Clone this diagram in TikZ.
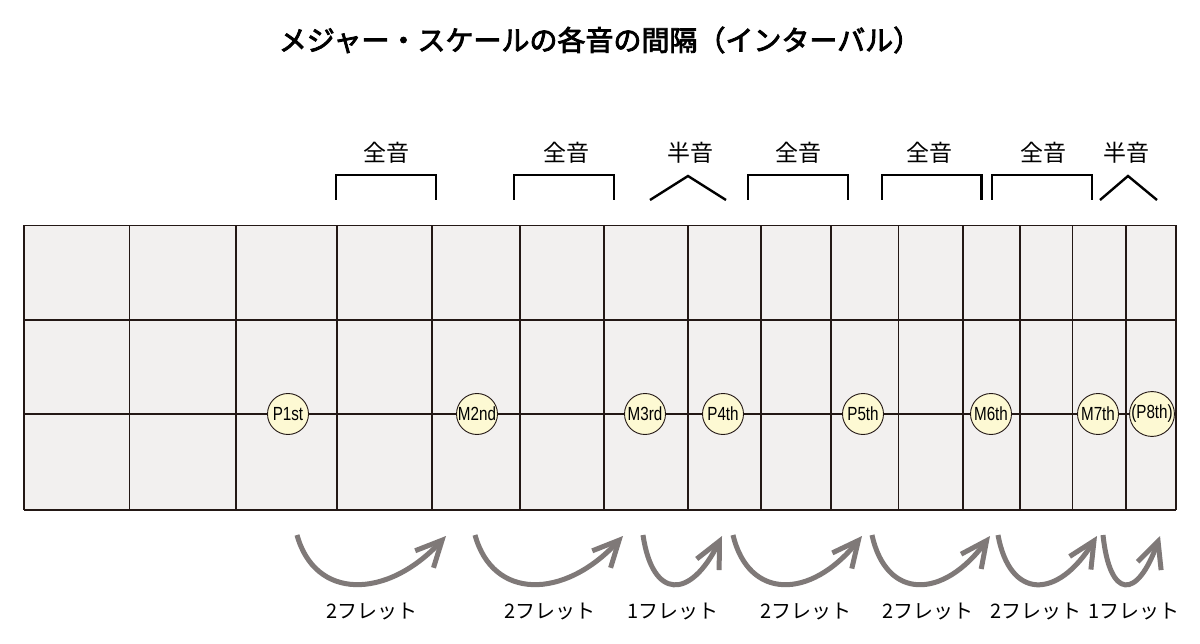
\documentclass[tikz,border=0pt]{standalone}
\usepackage{fontspec}
\setmainfont{Liberation Sans}
\newfontfamily\jp{Noto Sans CJK JP}
\newfontfamily\jptitle[FakeBold=3]{Noto Sans CJK JP}
\newfontfamily\dotfont[FakeStretch=0.8]{Liberation Sans}
\usetikzlibrary{arrows.meta,calc}
\definecolor{gridfill}{HTML}{F2F0EF}
\definecolor{gridline}{HTML}{231815}
\definecolor{dotfill}{HTML}{FDF9D3}
\definecolor{arrowgray}{HTML}{7F7978}
\tikzset{
  gridln/.style={draw=gridline, line width=1.6pt},
  dotnode/.style={circle, draw=gridline, line width=0.9pt, fill=dotfill, minimum size=41pt, inner sep=0pt, font=\dotfont\fontsize{19}{19}\selectfont},
  toplab/.style={font=\jp\fontsize{23}{23}\selectfont, inner sep=0pt},
  botlab/.style={font=\jp\fontsize{20}{20}\selectfont, inner sep=0pt},
  bracketln/.style={draw=black, line width=2.4pt},
  fretarrow/.style={draw=arrowgray, line width=5pt, -{Straight Barb[length=26pt, width=25pt, line width=5pt]}},
}
\begin{document}
\begin{tikzpicture}[x=1pt,y=-1pt]
\useasboundingbox (0,0) rectangle (1200,644);
\fill[white] (0,0) rectangle (1200,644);
% title
\node[font=\jptitle\fontsize{28}{28}\selectfont, inner sep=0pt] (title) at (600,40) {メジャー・スケールの各音の間隔（インターバル）};
% fretboard
\fill[gridfill] (23.7,225.5) rectangle (1176,510);
\foreach \x in {23.7,129.3,236,336.8,431.7,519.7,603.8,688,760.7,831,898.5,962.8,1020,1072.6,1126,1176}
  \draw[gridln] (\x,225.5) -- (\x,510);
\foreach \y in {225.5,320,414,510}
  \draw[gridln] (23.7,\y) -- (1176,\y);
% notes
\node[dotnode] (n1) at (288,414) {P1st};
\node[dotnode] (n2) at (477,414) {M2nd};
\node[dotnode] (n3) at (645,414) {M3rd};
\node[dotnode] (n4) at (723,414) {P4th};
\node[dotnode] (n5) at (863,414) {P5th};
\node[dotnode] (n6) at (991,414) {M6th};
\node[dotnode] (n7) at (1098,414) {M7th};
\node[dotnode] (n8) at (1152,414) {(P8th)};
% top labels and brackets
\node[toplab] (t1) at (386,153) {全音};
\node[toplab] (t2) at (566,153) {全音};
\node[toplab] (t3) at (690,153) {半音};
\node[toplab] (t4) at (798,153) {全音};
\node[toplab] (t5) at (929,153) {全音};
\node[toplab] (t6) at (1043,153) {全音};
\node[toplab] (t7) at (1126,153) {半音};
\draw[bracketln] (336,200) |- (436,175) -- (436,200);
\draw[bracketln] (514,200) |- (614,175) -- (614,200);
\draw[bracketln] (650,200) -- (688,176) -- (726,200);
\draw[bracketln] (748,200) |- (848,175) -- (848,200);
\draw[bracketln] (882,200) |- (981.5,175) -- (981.5,200);
\draw[bracketln] (992,200) |- (1092,175) -- (1092,200);
\draw[bracketln] (1100,200) -- (1128,176) -- (1157,200);
% arrows
\foreach \a/\b [count=\i] in {297/446, 475/623, 643/722, 733/862, 872/990, 998/1097, 1103/1160}{
  \coordinate (s\i) at (\a,535);
  \coordinate (e\i) at (\b,536);
  \pgfmathsetmacro{\w}{\b-\a}
  \draw[fretarrow] (s\i) .. controls ($(s\i)+(0.12*\w,65)$) and ($(e\i)+(-0.4*\w,64)$) .. (e\i);
}
% bottom labels
\node[botlab] (b1) at (372,612) {2フレット};
\node[botlab] (b2) at (550,612) {2フレット};
\node[botlab] (b3) at (673,612) {1フレット};
\node[botlab] (b4) at (806,612) {2フレット};
\node[botlab] (b5) at (928,612) {2フレット};
\node[botlab] (b6) at (1036,612) {2フレット};
\node[botlab] (b7) at (1134,612) {1フレット};
\end{tikzpicture}
\end{document}
